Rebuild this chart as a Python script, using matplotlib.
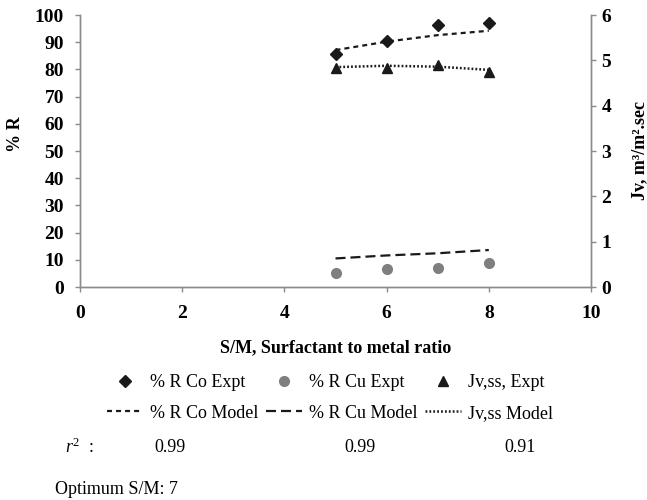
import numpy as np
import matplotlib
matplotlib.use("Agg")
import matplotlib.pyplot as plt

plt.rcParams['font.family'] = ['Liberation Serif', 'DejaVu Serif']
plt.rcParams['mathtext.fontset'] = 'custom'
plt.rcParams['mathtext.rm'] = 'Liberation Serif'
plt.rcParams['mathtext.it'] = 'Liberation Serif:italic'
plt.rcParams['lines.scale_dashes'] = False

# Du lieu doc tu hinh
sm_ratio = [5, 6, 7, 8]
co_expt = [85.5, 90.4, 96.3, 97.2]
co_model = [87.1, 90.2, 92.6, 94.2]
cu_expt = [5.0, 6.5, 7.1, 8.7]
cu_model = [10.5, 11.6, 12.4, 13.6]
jv_expt = [4.83, 4.83, 4.90, 4.75]
jv_model = [4.85, 4.88, 4.86, 4.79]

r2_labels = ["0.99", "0.99", "0.91"]
optimum_sm = 7

W, H = 647, 500
fs = 13
fs_tick = 14
spine_col = '#8c8c8c'

fig = plt.figure(figsize=(W / 100, H / 100), dpi=100)
ax = fig.add_axes([80 / W, 1 - 287 / H, 511 / W, 272 / H])
ax2 = ax.twinx()

# Ve cac duong
l_co_e, = ax.plot(sm_ratio, co_expt, linestyle='none', marker='D', markersize=6,
                  color='#1a1a1a', label='% R Co Expt')
l_co_m, = ax.plot(sm_ratio, co_model, color='#1a1a1a', lw=1.6, dashes=(3.6, 2.9),
                  label='% R Co Model')
l_cu_e, = ax.plot(sm_ratio, cu_expt, linestyle='none', marker='o', markersize=7,
                  color='#7f7f7f', label='% R Cu Expt')
l_cu_m, = ax.plot(sm_ratio, cu_model, color='#1a1a1a', lw=1.6, dashes=(7.2, 3.6),
                  label='% R Cu Model')
l_jv_e, = ax2.plot(sm_ratio, jv_expt, linestyle='none', marker='^', markersize=7,
                   color='#1a1a1a', label='Jv,ss, Expt')
l_jv_m, = ax2.plot(sm_ratio, jv_model, color='#1a1a1a', lw=1.8, dashes=(1.3, 1.5),
                   label='Jv,ss Model')

ax.set_xlim(0, 10)
ax.set_ylim(0, 100)
ax2.set_ylim(0, 6)
ax.set_xticks(np.arange(0, 11, 2))
ax.set_yticks(np.arange(0, 101, 10))
ax2.set_yticks(np.arange(0, 7, 1))

for a in (ax, ax2):
    a.spines['top'].set_visible(False)
    for s in ('left', 'right', 'bottom'):
        a.spines[s].set_color(spine_col)
        a.spines[s].set_linewidth(1.0)
    a.tick_params(direction='out', length=3.6, width=1.0, color=spine_col,
                  labelsize=fs_tick)
ax.tick_params(axis='y', pad=8)
ax.tick_params(axis='x', pad=9)
ax2.tick_params(axis='y', pad=4)
for lbl in ax.get_xticklabels() + ax.get_yticklabels() + ax2.get_yticklabels():
    lbl.set_fontweight('bold')

ax.set_xlabel('S/M, Surfactant to metal ratio', fontsize=fs, fontweight='bold',
              va='center')
ax.xaxis.set_label_coords(0.5, (287 - 348) / 272)
ax.set_ylabel('% R', fontsize=fs, fontweight='bold', va='center')
ax.yaxis.set_label_coords((15 - 80) / 511, 0.56)
ax2.set_ylabel('Jv, m³/m².sec', fontsize=fs, fontweight='bold', va='center')
ax2.yaxis.set_label_coords((640 - 80) / 511, 0.5)

# Chu giai
handles = [l_co_e, l_co_m, l_cu_e, l_cu_m, l_jv_e, l_jv_m]
fig.legend(handles, [h.get_label() for h in handles], ncol=3, loc='center',
           bbox_to_anchor=(330 / W, 1 - 398 / H), frameon=False,
           handlelength=2.0, handletextpad=0.4, columnspacing=0.4,
           labelspacing=0.75, numpoints=1, prop={'size': fs})

# Dong r^2 va toi uu
fig.text(65 / W, 1 - 447 / H, r'$r^2$  :', fontsize=fs, va='center')
for xpix, txt in zip([170, 360, 520], r2_labels):
    fig.text(xpix / W, 1 - 447 / H, txt, fontsize=fs, ha='center', va='center')
fig.text(55 / W, 1 - 490 / H, f'Optimum S/M: {optimum_sm}', fontsize=fs, va='center')

fig.savefig('out.png', dpi=100)
